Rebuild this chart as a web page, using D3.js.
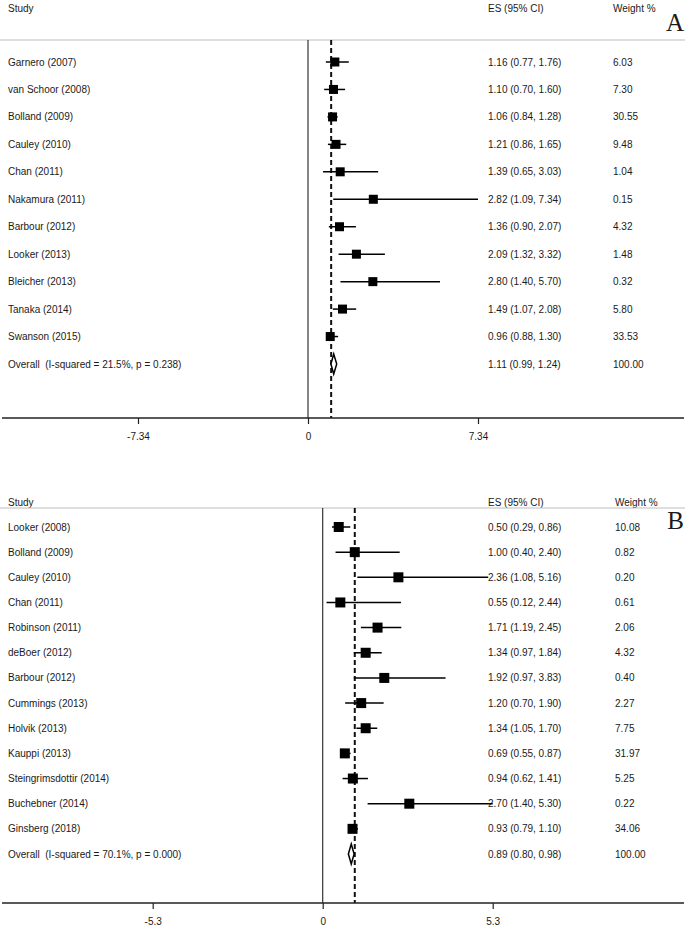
<!DOCTYPE html>
<html>
<head>
<meta charset="utf-8">
<script src="https://cdn.jsdelivr.net/npm/d3@7"></script>
<style>
  html, body { margin: 0; padding: 0; background: #fff; }
  svg { display: block; }
  text { font-family: "Liberation Sans", Arial, sans-serif; fill: #1a1a1a; white-space: pre; }
</style>
</head>
<body>
<svg id="chart" width="685" height="926"></svg>
<script>
// ---------- Panel A data ----------
const studiesA = ["Garnero (2007)", "van Schoor (2008)", "Bolland (2009)", "Cauley (2010)", "Chan (2011)",
  "Nakamura (2011)", "Barbour (2012)", "Looker (2013)", "Bleicher (2013)", "Tanaka (2014)", "Swanson (2015)"];
const esA    = [1.16, 1.10, 1.06, 1.21, 1.39, 2.82, 1.36, 2.09, 2.80, 1.49, 0.96];
const lowA   = [0.77, 0.70, 0.84, 0.86, 0.65, 1.09, 0.90, 1.32, 1.40, 1.07, 0.88];
const highA  = [1.76, 1.60, 1.28, 1.65, 3.03, 7.34, 2.07, 3.32, 5.70, 2.08, 1.30];
const weightA = ["6.03", "7.30", "30.55", "9.48", "1.04", "0.15", "4.32", "1.48", "0.32", "5.80", "33.53"];
const overallA = {label: "Overall  (I-squared = 21.5%, p = 0.238)", es: 1.11, low: 0.99, high: 1.24, weight: "100.00"};
const ticksA = [-7.34, 0, 7.34];

// ---------- Panel B data ----------
const studiesB = ["Looker (2008)", "Bolland (2009)", "Cauley (2010)", "Chan (2011)", "Robinson (2011)", "deBoer (2012)",
  "Barbour (2012)", "Cummings (2013)", "Holvik (2013)", "Kauppi (2013)", "Steingrimsdottir (2014)", "Buchebner (2014)", "Ginsberg (2018)"];
const esB    = [0.50, 1.00, 2.36, 0.55, 1.71, 1.34, 1.92, 1.20, 1.34, 0.69, 0.94, 2.70, 0.93];
const lowB   = [0.29, 0.40, 1.08, 0.12, 1.19, 0.97, 0.97, 0.70, 1.05, 0.55, 0.62, 1.40, 0.79];
const highB  = [0.86, 2.40, 5.16, 2.44, 2.45, 1.84, 3.83, 1.90, 1.70, 0.87, 1.41, 5.30, 1.10];
const weightB = ["10.08", "0.82", "0.20", "0.61", "2.06", "4.32", "0.40", "2.27", "7.75", "31.97", "5.25", "0.22", "34.06"];
const overallB = {label: "Overall  (I-squared = 70.1%, p = 0.000)", es: 0.89, low: 0.80, high: 0.98, weight: "100.00"};
const ticksB = [-5.3, 0, 5.3];

const headers = ["Study", "ES (95% CI)", "Weight %"];
const nullValue = 1;

const svg = d3.select("#chart");
const fmt = d3.format(".2f");

function panel(cfg) {
  const g = svg.append("g");
  const rows = cfg.studies.map((s, i) => ({label: s, es: cfg.es[i], low: cfg.low[i], high: cfg.high[i], weight: cfg.weight[i]}));
  const all = rows.concat([Object.assign({overall: true}, cfg.overall)]);

  const x = d3.scaleLinear().domain([0, cfg.ticks[2]]).range([cfg.x0, cfg.x1]);
  const y = d3.scalePoint().domain(d3.range(all.length)).range([cfg.yFirst, cfg.yLast]);

  // headers
  g.append("text").attr("x", 8).attr("y", cfg.headY).attr("dy", "0.35em").attr("font-size", 10).text(headers[0]);
  g.append("text").attr("x", 488).attr("y", cfg.headY).attr("dy", "0.35em").attr("font-size", 10).text(headers[1]);
  g.append("text").attr("x", cfg.wX).attr("y", cfg.headY).attr("dy", "0.35em").attr("font-size", 10).text(headers[2]);
  g.append("text").attr("x", 684).attr("y", cfg.letterY).attr("text-anchor", "end")
    .style("font-family", "'Liberation Serif', 'Times New Roman', serif").attr("font-size", 25).text(cfg.letter);

  // separator
  g.append("line").attr("x1", 0).attr("x2", 685).attr("y1", cfg.sepY).attr("y2", cfg.sepY)
    .attr("stroke", "#bdbdbd").attr("stroke-width", 1.2);

  // zero line
  g.append("line").attr("x1", x(0)).attr("x2", x(0)).attr("y1", cfg.sepY).attr("y2", cfg.axisY)
    .attr("stroke", "#333").attr("stroke-width", 1.2);
  // null (dashed) line
  g.append("line").attr("x1", x(nullValue)).attr("x2", x(nullValue)).attr("y1", cfg.sepY).attr("y2", cfg.axisY)
    .attr("stroke", "#111").attr("stroke-width", 2).attr("stroke-dasharray", "5,3");

  // axis
  const axis = d3.axisBottom(x).tickValues(cfg.ticks).tickSize(6).tickFormat(d => String(d));
  const ag = g.append("g").attr("transform", `translate(0,${cfg.axisY})`).call(axis);
  ag.select(".domain").remove();
  ag.append("line").attr("x1", 2).attr("x2", 684).attr("stroke", "#222").attr("stroke-width", 1.5);
  ag.selectAll(".tick line").attr("stroke", "#222").attr("stroke-width", 1.2);
  ag.selectAll(".tick text").attr("font-size", 10).attr("fill", "#1a1a1a")
    .style("font-family", "'Liberation Sans', Arial, sans-serif").attr("y", 18).attr("dy", "0.35em");

  // rows
  const rg = g.selectAll(".row").data(all).join("g").attr("class", "row");
  rg.append("text").attr("x", 8).attr("y", (d, i) => y(i)).attr("dy", "0.35em").attr("font-size", 10).text(d => d.label);
  rg.append("text").attr("x", 488).attr("y", (d, i) => y(i)).attr("dy", "0.35em").attr("font-size", 10)
    .text(d => `${fmt(d.es)} (${fmt(d.low)}, ${fmt(d.high)})`);
  rg.append("text").attr("x", cfg.wX).attr("y", (d, i) => y(i)).attr("dy", "0.35em").attr("font-size", 10).text(d => d.weight);

  const st = rg.filter(d => !d.overall);
  st.append("line").attr("x1", d => x(d.low)).attr("x2", d => x(d.high))
    .attr("y1", (d, i) => y(i)).attr("y2", (d, i) => y(i)).attr("stroke", "#000").attr("stroke-width", 1.5);
  st.append("rect").attr("x", d => x(d.es) - cfg.box / 2).attr("y", (d, i) => y(i) - cfg.box / 2)
    .attr("width", cfg.box).attr("height", cfg.box).attr("fill", "#000");

  const ov = all.length - 1;
  const o = cfg.overall;
  const yy = y(ov), h = cfg.diamondH;
  g.append("path")
    .attr("d", `M${x(o.low)},${yy} L${x(o.es)},${yy - h} L${x(o.high)},${yy} L${x(o.es)},${yy + h} Z`)
    .attr("fill", "#fff").attr("stroke", "#000").attr("stroke-width", 1.5);
}

panel({studies: studiesA, es: esA, low: lowA, high: highA, weight: weightA, overall: overallA, ticks: ticksA,
  x0: 308, x1: 478, yFirst: 62, yLast: 364, headY: 8, letterY: 31, letter: "A", sepY: 40, axisY: 418, wX: 613, box: 9, diamondH: 10});

panel({studies: studiesB, es: esB, low: lowB, high: highB, weight: weightB, overall: overallB, ticks: ticksB,
  x0: 322.7, x1: 492.7, yFirst: 527, yLast: 854, headY: 502, letterY: 529, letter: "B", sepY: 508, axisY: 903, wX: 615, box: 10, diamondH: 10});
</script>
</body>
</html>
